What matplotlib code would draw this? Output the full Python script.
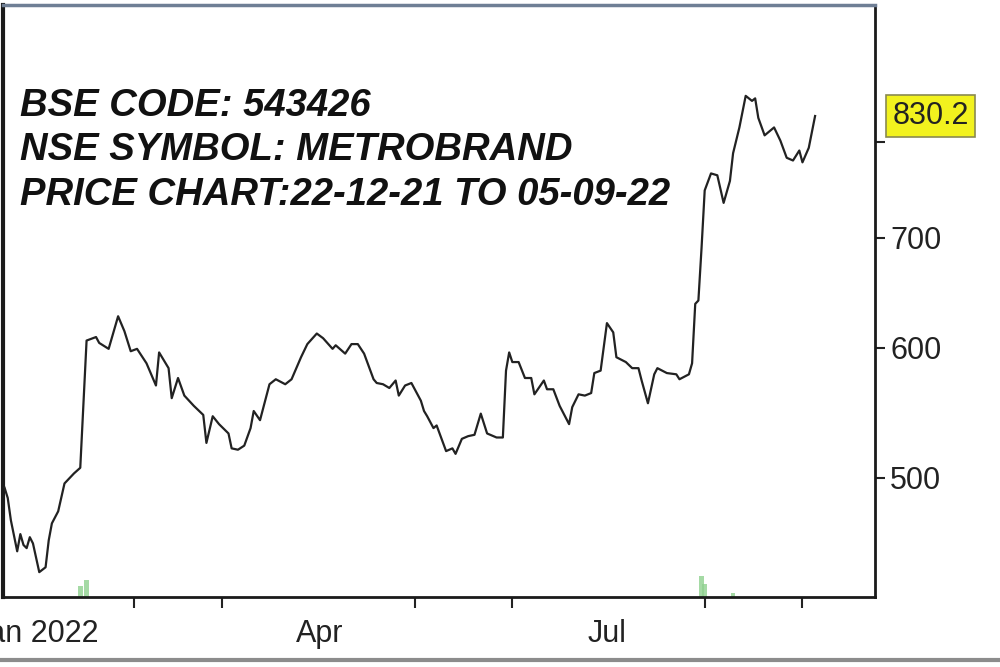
import matplotlib
matplotlib.use('Agg')
import matplotlib.pyplot as plt
import matplotlib.dates as mdates
import matplotlib.transforms as mtransforms
import pandas as pd

# closing prices
dates = [
    '2021-12-22', '2021-12-23', '2021-12-24', '2021-12-26', '2021-12-27', '2021-12-28',
    '2021-12-29', '2021-12-30', '2021-12-31',
    '2022-01-02', '2022-01-04', '2022-01-05', '2022-01-06', '2022-01-08', '2022-01-10',
    '2022-01-13', '2022-01-15', '2022-01-17', '2022-01-18', '2022-01-20', '2022-01-21',
    '2022-01-24', '2022-01-27', '2022-01-29', '2022-01-31',
    '2022-02-02', '2022-02-05', '2022-02-08', '2022-02-09', '2022-02-12', '2022-02-13',
    '2022-02-15', '2022-02-17', '2022-02-20', '2022-02-23', '2022-02-24', '2022-02-26',
    '2022-02-28',
    '2022-03-03', '2022-03-04', '2022-03-06', '2022-03-08', '2022-03-10', '2022-03-11',
    '2022-03-13', '2022-03-16', '2022-03-18', '2022-03-21', '2022-03-23', '2022-03-26',
    '2022-03-28', '2022-03-31',
    '2022-04-02', '2022-04-05', '2022-04-06', '2022-04-09', '2022-04-11', '2022-04-13',
    '2022-04-15', '2022-04-18', '2022-04-19', '2022-04-21', '2022-04-23', '2022-04-25',
    '2022-04-26', '2022-04-28', '2022-04-30',
    '2022-05-03', '2022-05-04', '2022-05-05', '2022-05-07', '2022-05-08', '2022-05-11',
    '2022-05-13', '2022-05-14', '2022-05-16', '2022-05-18', '2022-05-20', '2022-05-22',
    '2022-05-24', '2022-05-27', '2022-05-29', '2022-05-30', '2022-05-31',
    '2022-06-01', '2022-06-03', '2022-06-05', '2022-06-07', '2022-06-08', '2022-06-11',
    '2022-06-12', '2022-06-14', '2022-06-16', '2022-06-19', '2022-06-20', '2022-06-22',
    '2022-06-24', '2022-06-26', '2022-06-27', '2022-06-29',
    '2022-07-01', '2022-07-03', '2022-07-04', '2022-07-07', '2022-07-09', '2022-07-11',
    '2022-07-12', '2022-07-14', '2022-07-16', '2022-07-17', '2022-07-20', '2022-07-23',
    '2022-07-24', '2022-07-27', '2022-07-28', '2022-07-29', '2022-07-30', '2022-07-31',
    '2022-08-01', '2022-08-03', '2022-08-05', '2022-08-07', '2022-08-09', '2022-08-10',
    '2022-08-12', '2022-08-14', '2022-08-16', '2022-08-17', '2022-08-18', '2022-08-20',
    '2022-08-23', '2022-08-25', '2022-08-27', '2022-08-29', '2022-08-31',
    '2022-09-01', '2022-09-03', '2022-09-05',
]
prices = [
    493, 486, 471, 451, 462, 455,
    453, 460, 456,
    438, 441, 458, 469, 477, 496,
    503, 507, 606, 607, 609, 604,
    599, 627, 614, 597,
    599, 587, 569, 596, 583, 559,
    575, 561, 553, 546, 525, 545,
    539,
    532, 521, 520, 523, 536, 549,
    542, 570, 574, 570, 574, 592,
    603, 612,
    608, 599, 602, 595, 603, 603,
    595, 574, 571, 570, 567, 573,
    561, 569, 571,
    557, 549, 545, 536, 538, 519,
    521, 517, 528, 530, 531, 547,
    532, 529, 529, 581, 596,
    588, 588, 575, 575, 562, 573,
    566, 566, 553, 539, 552, 562,
    561, 563, 579, 581,
    621, 613, 592, 588, 583, 583,
    573, 555, 578, 583, 579, 578,
    574, 578, 587, 638, 641, 690,
    748, 766, 764, 735, 758, 788,
    817, 854, 848, 851, 828, 808,
    817, 802, 783, 780, 791,
    778, 794, 830.2,
]

# a few visible volume bars at the foot of the chart
vol_dates = ['2022-01-15', '2022-01-17', '2022-07-31', '2022-08-01', '2022-08-10']
vol_values = [9, 14, 18, 11, 3]

last_price = prices[-1]
y_ticks = [500, 600, 700, 800]
y_labels = ['500', '600', '700', '']
info_lines = ['BSE CODE: 543426', 'NSE SYMBOL: METROBRAND', 'PRICE CHART:22-12-21 TO 05-09-22']

dates = pd.to_datetime(dates)
vol_dates = pd.to_datetime(vol_dates)

plt.rcParams['font.family'] = ['Liberation Sans', 'DejaVu Sans']

fig = plt.figure(figsize=(10, 6.67), dpi=100)
ax = fig.add_axes([0.003, 1 - 597 / 667, 0.872, (597 - 5) / 667])

# volume on a hidden twin axis
axv = ax.twinx()
axv.bar(vol_dates, vol_values, width=1.5, color='#8fd18f', alpha=0.8)
axv.set_ylim(0, 500)
axv.axis('off')

ax.plot(dates, prices, color='#222222', lw=1.6, zorder=3)
ax.set_zorder(axv.get_zorder() + 1)
ax.patch.set_visible(False)

ax.set_yscale('log')
ax.set_ylim(423, 970)
ax.set_xlim(pd.Timestamp('2021-12-21 12:00'), pd.Timestamp('2022-09-24'))

ax.yaxis.tick_right()
ax.yaxis.set_major_locator(matplotlib.ticker.FixedLocator(y_ticks))
ax.yaxis.set_major_formatter(matplotlib.ticker.FixedFormatter(y_labels))
ax.yaxis.set_minor_locator(matplotlib.ticker.NullLocator())
ax.tick_params(axis='y', which='major', length=7, width=1.5, pad=4,
               labelsize=22, labelcolor='#222222', color='#222222')

# month ticks, labels only on quarters
ax.xaxis.set_minor_locator(mdates.MonthLocator(bymonth=range(2, 10)))
ax.xaxis.set_major_locator(mdates.MonthLocator(bymonth=[1, 4, 7]))
ax.xaxis.set_major_formatter(matplotlib.ticker.FixedFormatter(['Jan 2022', 'Apr', 'Jul']))
ax.tick_params(axis='x', which='minor', length=8, width=1.5, color='#222222')
ax.tick_params(axis='x', which='major', length=0, pad=16, labelsize=22, labelcolor='#222222')

for side in ['left', 'right', 'bottom']:
    ax.spines[side].set_color('#1a1a1a')
ax.spines['left'].set_linewidth(3)
ax.spines['right'].set_linewidth(2)
ax.spines['bottom'].set_linewidth(2)
ax.spines['top'].set_color('#6f7f95')
ax.spines['top'].set_linewidth(2.5)

# chart info text
ax.text(0.02, 0.86, '\n'.join(info_lines), transform=ax.transAxes, fontsize=27.5,
        fontweight='bold', fontstyle='italic', color='#111111', va='top', ha='left',
        linespacing=1.3)

# last price label
trans = mtransforms.blended_transform_factory(ax.transAxes, ax.transData)
ax.text(1.02, last_price, f'{last_price:.1f}', transform=trans, fontsize=22,
        color='#222222', va='center', ha='left', clip_on=False,
        bbox=dict(boxstyle='square,pad=0.2', facecolor='#f2f21e', edgecolor='#8a8a50', lw=1.2))

# bottom frame line
fig.add_artist(plt.Line2D([0, 1], [1 - 660 / 667, 1 - 660 / 667], transform=fig.transFigure,
                          color='#8c8c8c', lw=3))

fig.savefig('out.png', dpi=100)
